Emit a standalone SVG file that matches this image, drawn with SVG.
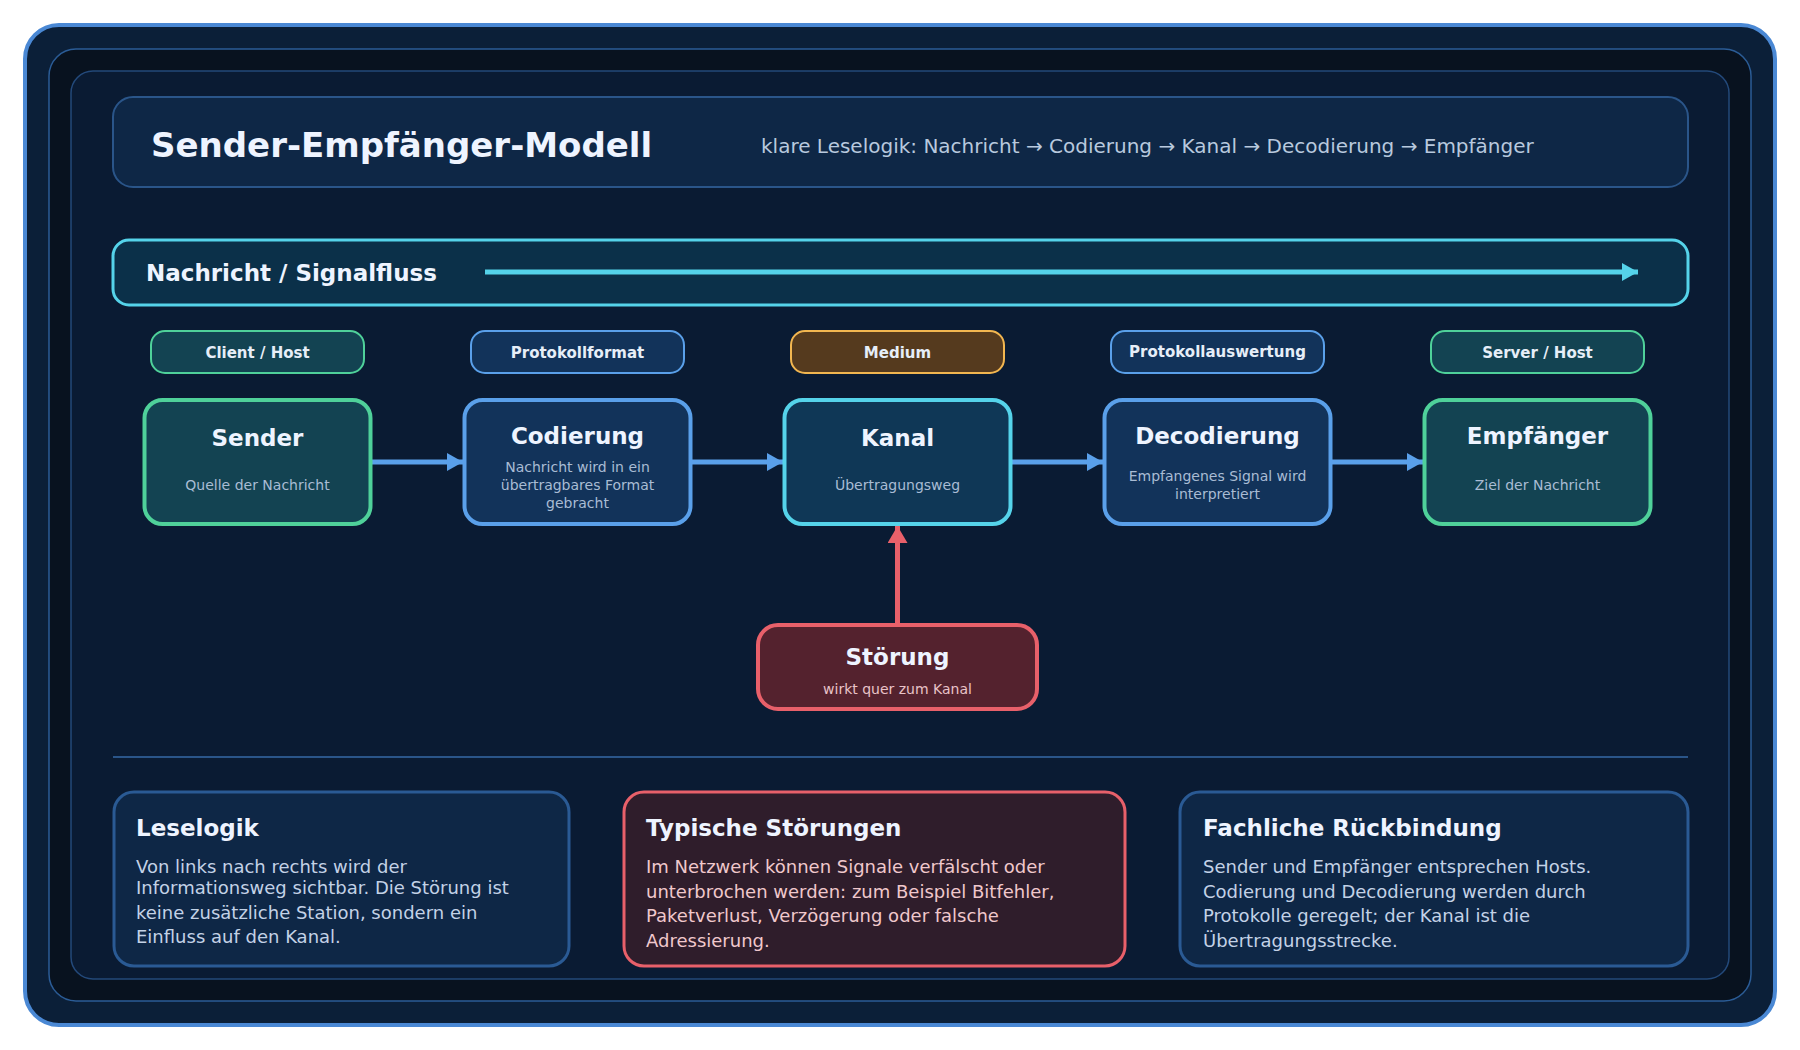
<svg xmlns="http://www.w3.org/2000/svg" width="1800" height="1050" viewBox="0 0 1800 1050">
<defs>
<style>
text{font-family:"DejaVu Sans","Liberation Sans",sans-serif}
.ttl{font-size:34px;font-weight:bold;fill:#eef4ff}
.sub{font-size:20px;fill:#b8c9de}
.band-t{font-size:23px;font-weight:bold;fill:#eef4ff}
.tag{font-size:15px;font-weight:bold;fill:#e6eef8;text-anchor:middle}
.nt{font-size:23px;font-weight:bold;fill:#eef4ff;text-anchor:middle}
.nd{font-size:14px;fill:#a9bcd4;text-anchor:middle}
.ct{font-size:23px;font-weight:bold;fill:#eef4ff}
.cb{font-size:18px;fill:#c3d2e6}
.cbr{font-size:18px;fill:#f0c8cc}
.green{fill:#134352;stroke:#4fd19a}
.blue{fill:#12335a;stroke:#5aa0ea}
.cyan{fill:#0f3756;stroke:#55d3ea}
.orange{fill:#553a1e;stroke:#f2b650}
.red{fill:#54222e;stroke:#e8606a}
.node{stroke-width:4}
.pill{stroke-width:2}
.card{fill:#0e2746;stroke:#2a5a94;stroke-width:3}
</style>
<marker id="ab" viewBox="0 0 16 18" refX="16" refY="9" markerWidth="16" markerHeight="18" markerUnits="userSpaceOnUse" orient="auto">
<path d="M0,0 L16,9 L0,18 Z" fill="#5aa0ea"/>
</marker>
<marker id="ac" viewBox="0 0 16 18" refX="16" refY="9" markerWidth="16" markerHeight="18" markerUnits="userSpaceOnUse" orient="auto">
<path d="M0,0 L16,9 L0,18 Z" fill="#55d3ea"/>
</marker>
<marker id="ar" viewBox="0 0 17 20" refX="17" refY="10" markerWidth="17" markerHeight="20" markerUnits="userSpaceOnUse" orient="auto">
<path d="M0,0 L17,10 L0,20 Z" fill="#e8606a"/>
</marker>
</defs>
<rect width="1800" height="1050" fill="#ffffff"/>
<g id="frame">
<rect x="25" y="25" width="1750" height="1000" rx="34" fill="#0b1f38" stroke="#4a88d4" stroke-width="4"/>
<rect x="49" y="49" width="1702" height="952" rx="27" fill="#08121f" stroke="#2b5c96" stroke-width="1.5"/>
<rect x="71" y="71" width="1658" height="908" rx="22" fill="#0a1b33" stroke="#23497a" stroke-width="1.5"/>
</g>
<g id="header">
<rect x="113" y="97" width="1575" height="90" rx="20" fill="#0e2746" stroke="#2a5589" stroke-width="2"/>
<text class="ttl" x="151" y="157">Sender-Empfänger-Modell</text>
<text class="sub" x="761" y="153">klare Leselogik: Nachricht → Codierung → Kanal → Decodierung → Empfänger</text>
</g>
<g id="signalfluss">
<rect x="113" y="240" width="1575" height="65" rx="16" fill="#0b3049" stroke="#55d3ea" stroke-width="3"/>
<text class="band-t" x="146" y="281">Nachricht / Signalfluss</text>
<line x1="485" y1="272" x2="1638" y2="272" stroke="#55d3ea" stroke-width="5" marker-end="url(#ac)"/>
</g>
<g id="tags">
<g id="tag-client"><rect class="green pill" x="151" y="331" width="213" height="42" rx="14"/><text class="tag" x="257.5" y="358">Client / Host</text></g>
<g id="tag-protokollformat"><rect class="blue pill" x="471" y="331" width="213" height="42" rx="14"/><text class="tag" x="577.5" y="358">Protokollformat</text></g>
<g id="tag-medium"><rect class="orange pill" x="791" y="331" width="213" height="42" rx="14"/><text class="tag" x="897.5" y="358">Medium</text></g>
<g id="tag-protokollauswertung"><rect class="blue pill" x="1111" y="331" width="213" height="42" rx="14"/><text class="tag" x="1217.5" y="357">Protokollauswertung</text></g>
<g id="tag-server"><rect class="green pill" x="1431" y="331" width="213" height="42" rx="14"/><text class="tag" x="1537.5" y="358">Server / Host</text></g>
</g>
<g id="connectors">
<line x1="371" y1="462" x2="463" y2="462" stroke="#5aa0ea" stroke-width="5" marker-end="url(#ab)"/>
<line x1="691" y1="462" x2="783" y2="462" stroke="#5aa0ea" stroke-width="5" marker-end="url(#ab)"/>
<line x1="1011" y1="462" x2="1103" y2="462" stroke="#5aa0ea" stroke-width="5" marker-end="url(#ab)"/>
<line x1="1331" y1="462" x2="1423" y2="462" stroke="#5aa0ea" stroke-width="5" marker-end="url(#ab)"/>
<line x1="897.5" y1="623" x2="897.5" y2="526" stroke="#e8606a" stroke-width="5" marker-end="url(#ar)"/>
</g>
<g id="node-sender">
<rect class="green node" x="144.5" y="400" width="226" height="124" rx="18"/>
<text class="nt" x="257.5" y="446">Sender</text>
<text class="nd" x="257.5" y="490">Quelle der Nachricht</text>
</g>
<g id="node-codierung">
<rect class="blue node" x="464.5" y="400" width="226" height="124" rx="18"/>
<text class="nt" x="577.5" y="444">Codierung</text>
<text class="nd" x="577.5" y="472">Nachricht wird in ein</text>
<text class="nd" x="577.5" y="490">übertragbares Format</text>
<text class="nd" x="577.5" y="508">gebracht</text>
</g>
<g id="node-kanal">
<rect class="cyan node" x="784.5" y="400" width="226" height="124" rx="18"/>
<text class="nt" x="897.5" y="446">Kanal</text>
<text class="nd" x="897.5" y="490">Übertragungsweg</text>
</g>
<g id="node-decodierung">
<rect class="blue node" x="1104.5" y="400" width="226" height="124" rx="18"/>
<text class="nt" x="1217.5" y="444">Decodierung</text>
<text class="nd" x="1217.5" y="481">Empfangenes Signal wird</text>
<text class="nd" x="1217.5" y="499">interpretiert</text>
</g>
<g id="node-empfaenger">
<rect class="green node" x="1424.5" y="400" width="226" height="124" rx="18"/>
<text class="nt" x="1537.5" y="444">Empfänger</text>
<text class="nd" x="1537.5" y="490">Ziel der Nachricht</text>
</g>
<g id="node-stoerung">
<rect class="red node" x="758" y="625" width="279" height="84" rx="20"/>
<text class="nt" x="897.5" y="665">Störung</text>
<text class="nd" x="897.5" y="694" style="fill:#e9c3c8">wirkt quer zum Kanal</text>
</g>
<line x1="113" y1="757" x2="1688" y2="757" stroke="#2a5589" stroke-width="2"/>
<g id="card-leselogik">
<rect class="card" x="114" y="792" width="455" height="174" rx="20"/>
<text class="ct" x="136" y="836">Leselogik</text>
<text class="cb" x="136" y="873">Von links nach rechts wird der</text>
<text class="cb" x="136" y="894">Informationsweg sichtbar. Die Störung ist</text>
<text class="cb" x="136" y="919">keine zusätzliche Station, sondern ein</text>
<text class="cb" x="136" y="943">Einfluss auf den Kanal.</text>
</g>
<g id="card-stoerungen">
<rect x="624" y="792" width="501" height="174" rx="20" fill="#2f1d2b" stroke="#e8606a" stroke-width="3"/>
<text class="ct" x="646" y="836">Typische Störungen</text>
<text class="cbr" x="646" y="873">Im Netzwerk können Signale verfälscht oder</text>
<text class="cbr" x="646" y="898">unterbrochen werden: zum Beispiel Bitfehler,</text>
<text class="cbr" x="646" y="922">Paketverlust, Verzögerung oder falsche</text>
<text class="cbr" x="646" y="947">Adressierung.</text>
</g>
<g id="card-rueckbindung">
<rect class="card" x="1180" y="792" width="508" height="174" rx="20"/>
<text class="ct" x="1203" y="836">Fachliche Rückbindung</text>
<text class="cb" x="1203" y="873">Sender und Empfänger entsprechen Hosts.</text>
<text class="cb" x="1203" y="898">Codierung und Decodierung werden durch</text>
<text class="cb" x="1203" y="922">Protokolle geregelt; der Kanal ist die</text>
<text class="cb" x="1203" y="947">Übertragungsstrecke.</text>
</g>
</svg>
